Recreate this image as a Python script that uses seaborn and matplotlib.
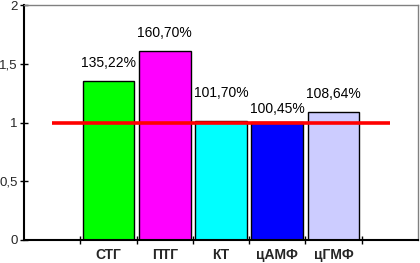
import matplotlib
matplotlib.use("Agg")
import matplotlib.pyplot as plt
import seaborn as sns
import pandas as pd
from matplotlib.ticker import FixedLocator

categories = ["СТГ", "ПТГ", "КТ", "цАМФ", "цГМФ"]
values = [1.3522, 1.6070, 1.0170, 1.0045, 1.0864]
labels = ["135,22%", "160,70%", "101,70%", "100,45%", "108,64%"]
colors = ["#00FF00", "#FF00FF", "#00FFFF", "#0000FF", "#CCCCFF"]
yticks = [0, 0.5, 1, 1.5, 2]
ytick_labels = ["0", "0,5", "1", "1,5", "2"]
reference_level = 1.0

sns.set_theme(style="white")
plt.rcParams["font.family"] = ["Liberation Sans", "DejaVu Sans"]

df = pd.DataFrame({"cat": categories, "val": values})

fig = plt.figure(figsize=(4.2, 2.63), dpi=100)
ax = fig.add_axes([24/420, 23/263, 394/420, 235/263])

sns.barplot(data=df, x="cat", y="val", hue="cat", palette=colors, order=categories,
            hue_order=categories, width=0.92, edgecolor="black", linewidth=1.0,
            legend=False, ax=ax, saturation=1)

ax.set_xlim(-1.5, 5.5)
ax.set_ylim(0, 2)
ax.set_xlabel("")
ax.set_ylabel("")

# label offsets (in points)
offs = [8, 8, 15, 4, 8]
for i, (v, lab) in enumerate(zip(values, labels)):
    ax.annotate(lab, (i, v), xytext=(0, offs[i]), textcoords="offset points",
                ha="center", va="bottom", fontsize=10, color="black")

ax.plot([-1, 5], [reference_level, reference_level], color="#FF0000", lw=2.6, zorder=5,
        solid_capstyle="butt")

ax.set_yticks(yticks)
ax.set_yticklabels(ytick_labels, fontsize=9.5)
ax.set_xticks(range(len(categories)))
ax.set_xticklabels(categories, fontsize=10, fontweight="bold")
ax.tick_params(axis="x", which="major", length=0, pad=6)
ax.xaxis.set_minor_locator(FixedLocator([i - 0.5 for i in range(len(categories) + 1)]))
ax.tick_params(axis="x", which="minor", direction="inout", length=6, width=1, color="black", bottom=True)
ax.tick_params(axis="y", which="major", direction="inout", length=6, width=1, color="black", left=True, pad=1.5)

for s in ["left", "bottom"]:
    ax.spines[s].set_color("black")
    ax.spines[s].set_linewidth(1.5)
for s in ["top", "right"]:
    ax.spines[s].set_color("#808080")
    ax.spines[s].set_linewidth(1.0)

fig.savefig("out.png", dpi=100)
